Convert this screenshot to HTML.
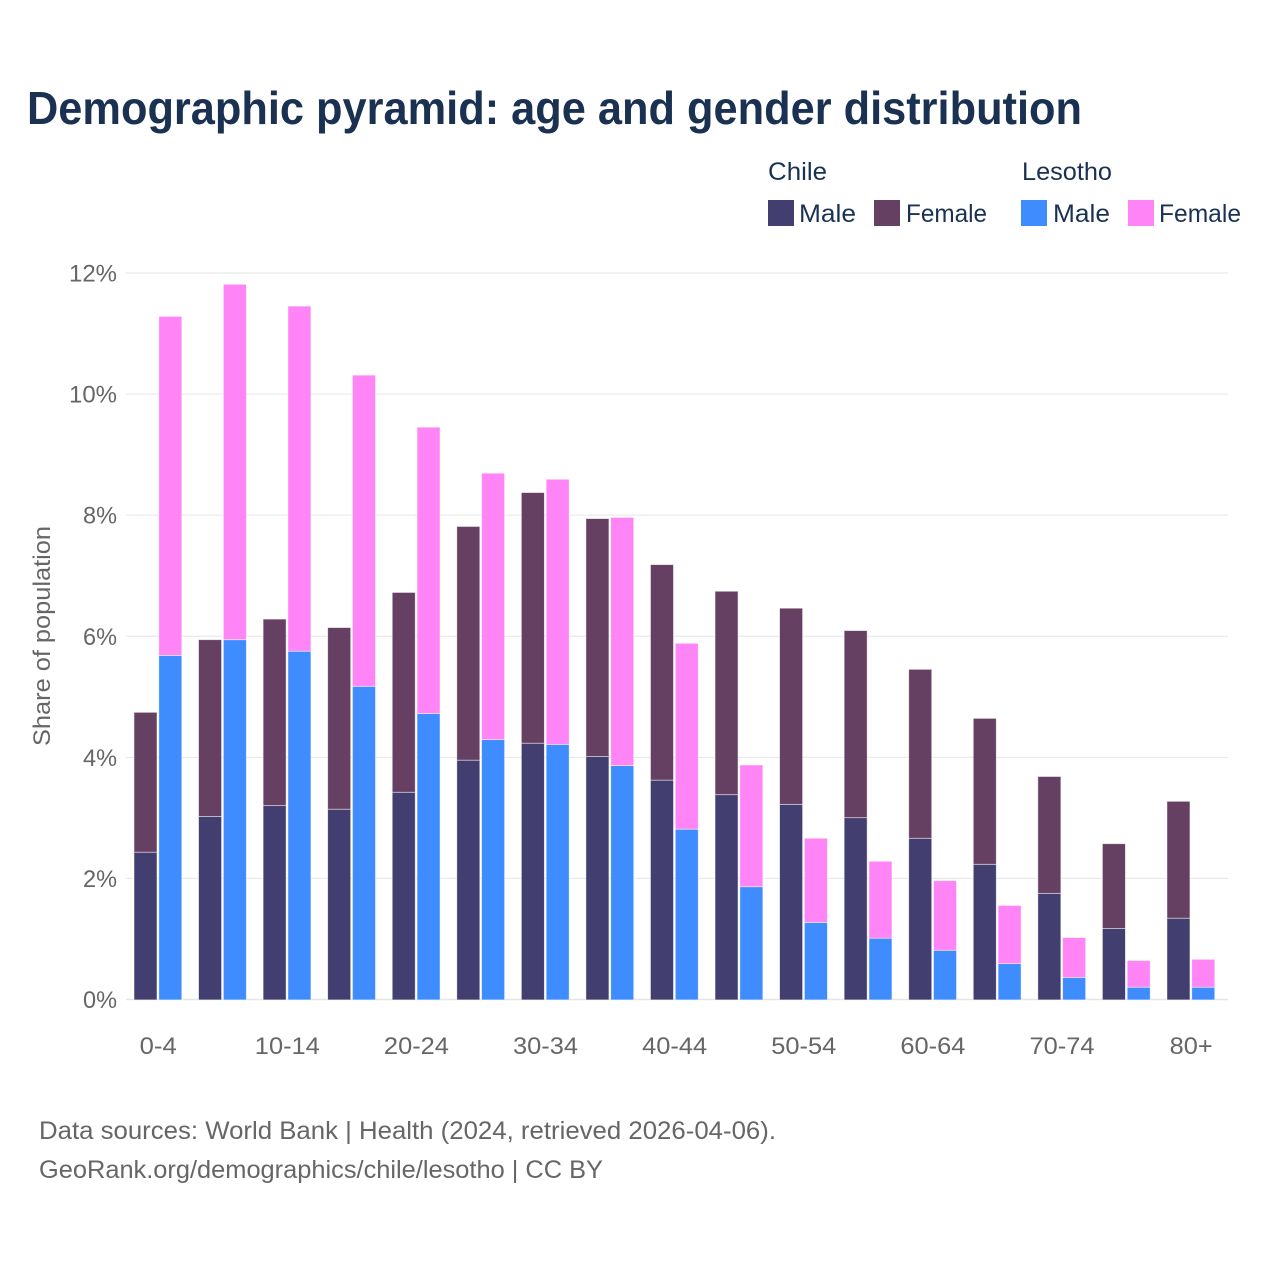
<!DOCTYPE html>
<html lang="en">
<head>
<meta charset="utf-8">
<title>Demographic pyramid</title>
<style>
html,body{margin:0;padding:0;background:#fff}
svg{display:block}
text{font-family:"Liberation Sans",sans-serif}
</style>
</head>
<body>
<svg id="chart" width="1280" height="1280" viewBox="0 0 1280 1280" xmlns="http://www.w3.org/2000/svg">
<rect width="1280" height="1280" fill="#ffffff"/>
<text x="27" y="124" font-size="46" font-weight="700" fill="#1a3152" textLength="1055" lengthAdjust="spacingAndGlyphs">Demographic pyramid: age and gender distribution</text>
<g font-size="25" fill="#1a3152">
<text x="768" y="180" textLength="59" lengthAdjust="spacingAndGlyphs">Chile</text>
<text x="1022" y="180" textLength="90" lengthAdjust="spacingAndGlyphs">Lesotho</text>
<rect x="768" y="200" width="26" height="26" fill="#423e6f"/>
<text x="799" y="222" textLength="57" lengthAdjust="spacingAndGlyphs">Male</text>
<rect x="874" y="200" width="26" height="26" fill="#664063"/>
<text x="906" y="222" textLength="81" lengthAdjust="spacingAndGlyphs">Female</text>
<rect x="1021" y="200" width="26" height="26" fill="#3f8cff"/>
<text x="1053" y="222" textLength="57" lengthAdjust="spacingAndGlyphs">Male</text>
<rect x="1128" y="200" width="26" height="26" fill="#ff85f7"/>
<text x="1159" y="222" textLength="82" lengthAdjust="spacingAndGlyphs">Female</text>
</g>
<text transform="translate(50,636) rotate(-90)" text-anchor="middle" font-size="24" fill="#666666" textLength="220" lengthAdjust="spacingAndGlyphs">Share of population</text>
<g id="grid"></g>
<g id="bars"></g>
<g id="xticks"></g>
<g id="yticks"></g>
<text x="39" y="1139" font-size="25" fill="#666666" textLength="737" lengthAdjust="spacingAndGlyphs">Data sources: World Bank | Health (2024, retrieved 2026-04-06).</text>
<text x="39" y="1178" font-size="25" fill="#666666" textLength="564" lengthAdjust="spacingAndGlyphs">GeoRank.org/demographics/chile/lesotho | CC BY</text>
</svg>
<script>
var categories = ["0-4","5-9","10-14","15-19","20-24","25-29","30-34","35-39","40-44","45-49","50-54","55-59","60-64","65-69","70-74","75-79","80+"];
var xTickLabels = ["0-4","10-14","20-24","30-34","40-44","50-54","60-64","70-74","80+"];
var yTicks = [0,2,4,6,8,10,12];
var chileMale = [2.44,3.03,3.21,3.15,3.43,3.96,4.24,4.02,3.63,3.39,3.23,3.01,2.67,2.24,1.76,1.18,1.35];
var chileFemale = [2.31,2.92,3.08,3.00,3.30,3.86,4.14,3.93,3.56,3.36,3.24,3.09,2.79,2.41,1.93,1.40,1.93];
var lesothoMale = [5.69,5.95,5.76,5.18,4.73,4.30,4.22,3.87,2.82,1.87,1.28,1.02,0.82,0.60,0.37,0.21,0.21];
var lesothoFemale = [5.60,5.87,5.70,5.14,4.73,4.40,4.38,4.10,3.07,2.01,1.39,1.27,1.15,0.96,0.66,0.44,0.46];

var NS = 'http://www.w3.org/2000/svg';
function yScale(v){ return 999.5 - v * 60.54; }
function xScale(i){ return 158.2 + i * 64.56; }
function labelWidth(s){
  var w = 0;
  for (var k = 0; k < s.length; k++) {
    var c = s.charAt(k);
    w += c === '-' ? 9 : c === '%' ? 20 : c === '+' ? 15 : 14;
  }
  return w;
}
var gridG = document.getElementById('grid');
var yG = document.getElementById('yticks');
yTicks.forEach(function(t){
  var line = document.createElementNS(NS, 'line');
  
  
  line.setAttribute('x1', 126);
  line.setAttribute('x2', 1228);
  line.setAttribute('y1', yScale(t));
  line.setAttribute('y2', yScale(t));
  line.setAttribute('stroke', '#e6e6e6');
  line.setAttribute('stroke-width', t === 0 ? 1.5 : 1);
  gridG.appendChild(line);
  var label = document.createElementNS(NS, 'text');
  
  
  var s = t + '%';
  var w = labelWidth(s);
  label.setAttribute('x', 117 - w);
  label.setAttribute('y', yScale(t) + 8.5);
  label.setAttribute('font-size', 24);
  label.setAttribute('fill', '#666666');
  label.setAttribute('textLength', w);
  label.setAttribute('lengthAdjust', 'spacingAndGlyphs');
  label.textContent = s;
  yG.appendChild(label);
});
var barsG = document.getElementById('bars');
function addBar(x, base, val, color){
  var r = document.createElementNS(NS, 'rect');
  
  
  r.setAttribute('x', x);
  r.setAttribute('width', 23);
  r.setAttribute('y', yScale(base + val) + 0.4);
  r.setAttribute('height', yScale(base) - yScale(base + val));
  r.setAttribute('fill', color);
  r.setAttribute('stroke', '#ffffff');
  r.setAttribute('stroke-opacity', '0.6');
  r.setAttribute('stroke-width', 0.8);
  barsG.appendChild(r);
}
categories.forEach(function(c, i){
  var cx = xScale(i);
  addBar(cx - 24.2, 0, chileMale[i], '#423e6f');
  addBar(cx - 24.2, chileMale[i], chileFemale[i], '#664063');
  addBar(cx + 0.6, 0, lesothoMale[i], '#3f8cff');
  addBar(cx + 0.6, lesothoMale[i], lesothoFemale[i], '#ff85f7');
});
var xG = document.getElementById('xticks');
xTickLabels.forEach(function(s){
  var i = categories.indexOf(s);
  var w = labelWidth(s);
  var label = document.createElementNS(NS, 'text');
  
  
  label.setAttribute('x', xScale(i) - w / 2);
  label.setAttribute('y', 1054);
  label.setAttribute('font-size', 24);
  label.setAttribute('fill', '#666666');
  label.setAttribute('textLength', w);
  label.setAttribute('lengthAdjust', 'spacingAndGlyphs');
  label.textContent = s;
  xG.appendChild(label);
});
</script>
</body>
</html>
